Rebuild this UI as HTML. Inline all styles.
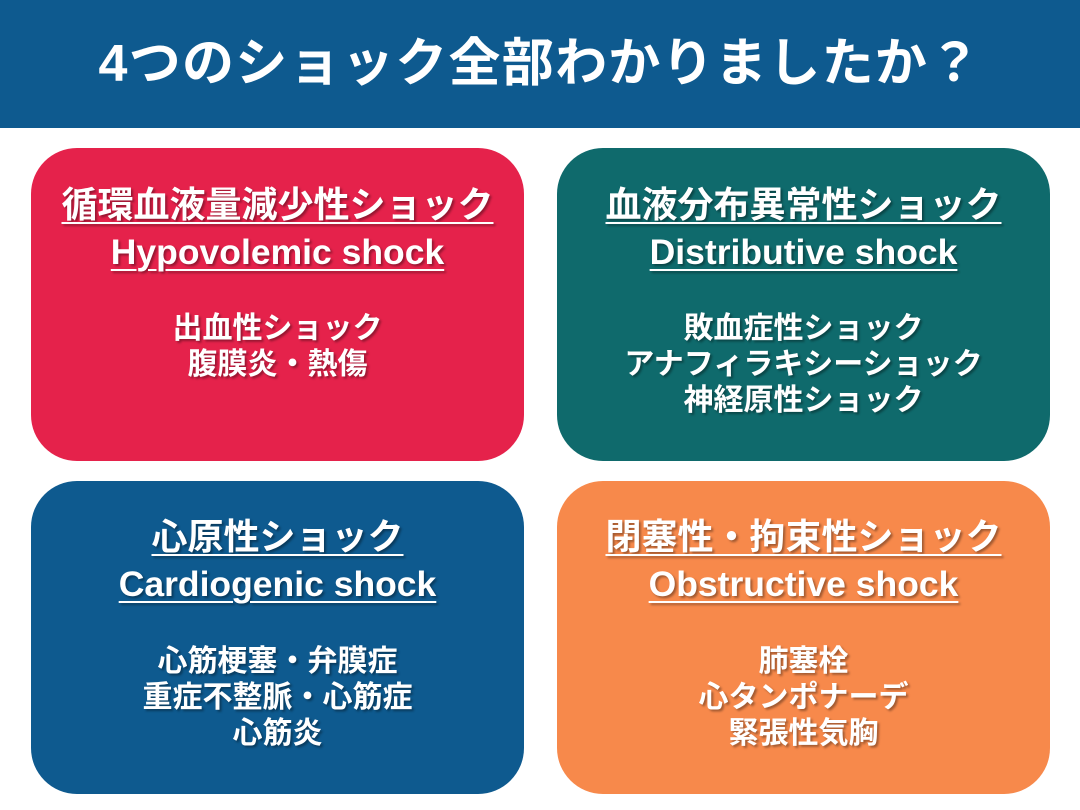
<!DOCTYPE html>
<html><head><meta charset="utf-8"><style>
body{margin:0;width:1080px;height:810px;background:#fff;position:relative;overflow:hidden;font-family:"Liberation Sans","Noto Sans CJK JP",sans-serif;font-weight:bold;color:#fff}
.hdr{position:absolute;left:0;top:0;width:1080px;height:128px;background:#0e5a8f}
.ttl{position:absolute;left:0;width:1080px;top:31px;text-align:center;font-size:52px;line-height:66px;letter-spacing:1.3px}
.box{position:absolute;width:493px;height:313px;border-radius:46px}
.l{position:absolute;left:0;width:100%;text-align:center;white-space:nowrap;text-shadow:2px 2px 2px rgba(0,0,0,.35)}
.t{font-size:36px;line-height:40px}
.e{font-size:35.5px;line-height:40px}
.u{text-decoration:underline;text-decoration-thickness:2px;text-underline-offset:5px}
.b{font-size:30px;line-height:36px}
</style></head><body>
<div class="hdr"></div>
<div class="ttl">4つのショック全部わかりましたか？</div>

<div class="box" style="left:31px;top:148px;background:#e5224b">
 <div class="l t" style="top:37px"><span class="u">循環血液量減少性ショック</span></div>
 <div class="l e" style="top:84px"><span class="u">Hypovolemic shock</span></div>
 <div class="l b" style="top:163px">出血性ショック<br>腹膜炎・熱傷</div>
</div>
<div class="box" style="left:557px;top:148px;background:#0f6a6c">
 <div class="l t" style="top:37px"><span class="u">血液分布異常性ショック</span></div>
 <div class="l e" style="top:84px"><span class="u">Distributive shock</span></div>
 <div class="l b" style="top:163px">敗血症性ショック<br>アナフィラキシーショック<br>神経原性ショック</div>
</div>
<div class="box" style="left:31px;top:481px;background:#0e5a8f">
 <div class="l t" style="top:36px"><span class="u">心原性ショック</span></div>
 <div class="l e" style="top:83px"><span class="u">Cardiogenic shock</span></div>
 <div class="l b" style="top:163px">心筋梗塞・弁膜症<br>重症不整脈・心筋症<br>心筋炎</div>
</div>
<div class="box" style="left:557px;top:481px;background:#f7894b">
 <div class="l t" style="top:36px"><span class="u">閉塞性・拘束性ショック</span></div>
 <div class="l e" style="top:83px"><span class="u">Obstructive shock</span></div>
 <div class="l b" style="top:163px">肺塞栓<br>心タンポナーデ<br>緊張性気胸</div>
</div>
</body></html>
